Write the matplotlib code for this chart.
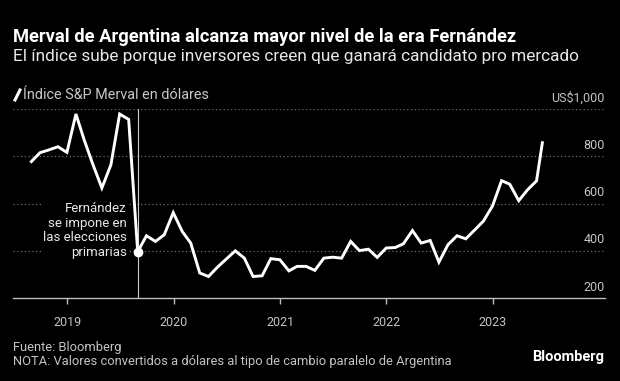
import matplotlib
matplotlib.use("Agg")
import matplotlib.pyplot as plt
from matplotlib.lines import Line2D
import pandas as pd

# ---- data ----
start_month = "2018-08-31"
last_date = "2023-06-20"
merval_usd = [778, 816, 828, 841, 817, 980, 871, 763, 666, 764, 980, 957, 395,
              463, 439, 467, 561, 481, 432, 305, 290, 330, 364, 399, 368, 290, 293, 366, 361,
              314, 333, 333, 316, 368, 372, 368, 439, 400, 406, 371, 411, 413,
              429, 485, 432, 443, 351, 425, 463, 450, 488, 526, 590, 697, 682, 612, 658, 696, 858]
year_ticks = ["2019", "2020", "2021", "2022", "2023"]
y_ticks = [200, 400, 600, 800, 1000]
y_labels = ["200", "400", "600", "800", "US$1,000"]
event_index = 12  # Aug 2019 primaries

dates = list(pd.date_range(start_month, periods=len(merval_usd) - 1, freq="ME")) + [pd.Timestamp(last_date)]

W, H = 620, 381
FONT = "Roboto"
plt.rcParams["font.family"] = [FONT, "DejaVu Sans"]

fig = plt.figure(figsize=(W / 100, H / 100), dpi=100, facecolor="black")

def fx(px):
    return px / W

def fy(py):
    return 1 - py / H

ax = fig.add_axes([fx(13.3), fy(297.7), fx(605) - fx(13.3), fy(109.3) - fy(297.7)])
ax.set_facecolor("black")
ax.set_xlim(pd.Timestamp("2018-06-30"), pd.Timestamp("2024-01-21"))
ax.set_ylim(200, 1000)

for s in ["top", "right", "left"]:
    ax.spines[s].set_visible(False)
ax.spines["bottom"].set_color("#bdbdbd")
ax.spines["bottom"].set_linewidth(1.0)

# gridlines
for v in y_ticks[1:]:
    ax.axhline(v, color="#6a6a6a", lw=0.9, ls=(0, (1, 2)), zorder=1)

# y labels above gridlines
ax.set_yticks([])
for v, lab in zip(y_ticks, y_labels):
    ax.annotate(lab, xy=(1, v), xycoords=("axes fraction", "data"),
                xytext=(0, 3), textcoords="offset points",
                ha="right", va="bottom", color="#c4c4c4", fontsize=9)

# x ticks
ax.set_xticks([pd.Timestamp(f"{y}-01-01") for y in year_ticks])
ax.set_xticklabels(year_ticks)
ax.tick_params(axis="x", colors="#bdbdbd", length=4, width=1, pad=9, labelsize=9,
               labelcolor="#c4c4c4")

# event vertical line
ax.plot([dates[event_index], dates[event_index]], [200, 1000], color="#cfcfcf", lw=0.8, zorder=2)

# main line
ax.plot(dates, merval_usd, color="white", lw=2.1, solid_joinstyle="miter", zorder=3, clip_on=False)
ax.plot([dates[event_index]], [merval_usd[event_index]], "o", color="white", ms=6, zorder=4)

# annotation
ax.annotate("Fernández\nse impone en\nlas elecciones\nprimarias",
            xy=(dates[event_index], merval_usd[event_index]), xytext=(-8, -5),
            textcoords="offset points", ha="right", va="bottom",
            color="#e8e8e8", fontsize=9.5, linespacing=1.15, multialignment="right",
            bbox=dict(boxstyle="square,pad=0.1", fc="black", ec="none"), zorder=2.5)

# titles
fig.text(fx(13), fy(37), "Merval de Argentina alcanza mayor nivel de la era Fernández",
         color="white", fontsize=13.2, fontweight="bold", va="center", ha="left")
fig.text(fx(13), fy(57), "El índice sube porque inversores creen que ganará candidato pro mercado",
         color="#e6e6e6", fontsize=12.4, va="center", ha="left")

# legend
fig.add_artist(Line2D([fx(15), fx(20)], [fy(100), fy(90)], color="white", lw=2.2))
fig.text(fx(23), fy(95), "Índice S&P Merval en dólares", color="#c8c8c8", fontsize=10.4,
         va="center", ha="left")

# footer
fig.text(fx(13), fy(347), "Fuente: Bloomberg", color="#c4c4c4", fontsize=9.3, va="center", ha="left")
fig.text(fx(13), fy(362), "NOTA: Valores convertidos a dólares al tipo de cambio paralelo de Argentina",
         color="#c4c4c4", fontsize=9.3, va="center", ha="left")
fig.text(fx(604), fy(357), "Bloomberg", color="white", fontsize=10.5, fontweight="bold",
         va="center", ha="right")

fig.savefig("out.png", dpi=100, facecolor="black")
